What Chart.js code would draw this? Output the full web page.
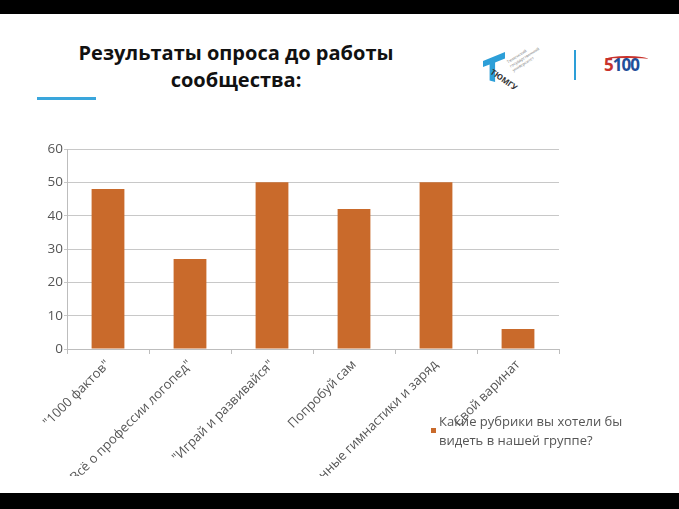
<!DOCTYPE html>
<html>
<head>
<meta charset="utf-8">
<script src="https://cdn.jsdelivr.net/npm/chart.js@4.4.1/dist/chart.umd.min.js"></script>
<style>
  html, body { margin: 0; padding: 0; background: #fff; overflow: hidden; }
  body { width: 679px; height: 509px; position: relative; font-family: "Open Sans", sans-serif; }
  .bar { position: absolute; left: 0; width: 679px; background: #000; z-index: 5; }
  #title { position: absolute; left: 36px; width: 400px; top: 39px; text-align: center;
           font-family: "Open Sans", sans-serif; font-weight: 700; font-size: 20px; line-height: 27px; color: #111; }
  #underline { position: absolute; left: 37px; top: 97px; width: 59px; height: 3px; background: #3aa6dc; }
  #chart { position: absolute; left: 0; top: 0; }
  #legend { position: absolute; left: 431px; top: 412px; font-size: 13px; line-height: 19px; color: #555; }
  #legend .sw { position: absolute; left: 0; top: 16px; width: 5px; height: 5px; background: #c96a2b; }
  #legend .tx { margin-left: 8px; }
  .logo { position: absolute; }
</style>
</head>
<body>
<div class="bar" style="top:0;height:14px"></div>
<div class="bar" style="top:493px;height:16px"></div>

<div id="title">Результаты опроса до работы<br>сообщества:</div>
<div id="underline"></div>

<!-- logos -->
<div class="logo" style="left:483px;top:52px;width:22px;height:30px;background:#2d9fd8;
     clip-path:polygon(0 30%,100% 0,100% 22%,55% 35%,55% 100%,30% 95%,30% 42%,0 50%)"></div>
<div class="logo" style="left:495px;top:66px;font-size:8px;font-weight:700;color:#333;transform:rotate(35deg);transform-origin:left top">ТЮМГУ</div>
<div class="logo" style="left:506px;top:60px;font-size:4px;line-height:5px;color:#777;transform:rotate(-32deg);transform-origin:left top">Тюменский<br>государственный<br>университет</div>
<div class="logo" style="left:574px;top:50px;width:2px;height:30px;background:#2d9fd8"></div>
<div class="logo" style="left:604px;top:56px;font-family:'Open Sans';font-weight:700;font-size:17px;line-height:18px;letter-spacing:-1px">
  <span style="color:#c8322b">5</span><span style="color:#1f4f9a">100</span></div>
<div class="logo" style="left:606px;top:56px;width:42px;height:4px;border-top:2px solid #c8322b;border-radius:50%"></div>

<!-- the slide crops the chart picture at y=476 -->
<canvas id="chart" width="679" height="476"></canvas>

<div id="legend"><span class="sw"></span><div class="tx">Какие рубрики вы хотели бы</div><div class="tx">видеть в нашей группе?</div></div>

<script>
const categories = ['"1000 фактов"', '"Всё о профессии логопед"', '"Играй и развивайся"', 'Попробуй сам', 'Артикуляционные гимнастики и заряд', 'Свой варинат'];
const answers = [48, 27, 50, 42, 50, 6];
const yTicks = [0, 10, 20, 30, 40, 50, 60];

const barColor = '#c96a2b';
const axisGray = '#bdbdbd';

const config = {
  type: 'bar',
  data: {
    labels: categories,
    datasets: [{
      label: 'Какие рубрики вы хотели бы видеть в нашей группе?',
      data: answers,
      backgroundColor: barColor,
      borderWidth: 0,
      barPercentage: 0.4,
      categoryPercentage: 1.0,
    }],
  },
  options: {
    responsive: false,
    animation: false,
    devicePixelRatio: 1,
    layout: { padding: { top: 149, right: 120, left: 0, bottom: 0 } },
    plugins: {
      legend: { display: false },
      tooltip: { enabled: false },
    },
    scales: {
      x: {
        grid: { display: true, drawOnChartArea: false, color: axisGray, tickLength: 5, offset: true },
        border: { color: axisGray, width: 1 },
        ticks: {
          autoSkip: false,
          minRotation: 45,
          maxRotation: 45,
          padding: 3,
          color: '#555',
          font: { family: 'Open Sans', size: 13 },
        },
        afterFit: function (scale) { scale.height = 127; },
      },
      y: {
        min: 0,
        max: 60,
        afterBuildTicks: function (scale) { scale.ticks = yTicks.map(v => ({ value: v })); },
        grid: { color: '#c8c8c8', lineWidth: 1, tickLength: 3 },
        border: { color: axisGray, width: 1 },
        ticks: {
          padding: 1,
          color: '#555',
          font: { family: 'Open Sans', size: 13.5 },
        },
        afterFit: function (scale) { scale.width = 67; },
      },
    },
  },
};

new Chart(document.getElementById('chart'), config);
</script>
</body>
</html>
